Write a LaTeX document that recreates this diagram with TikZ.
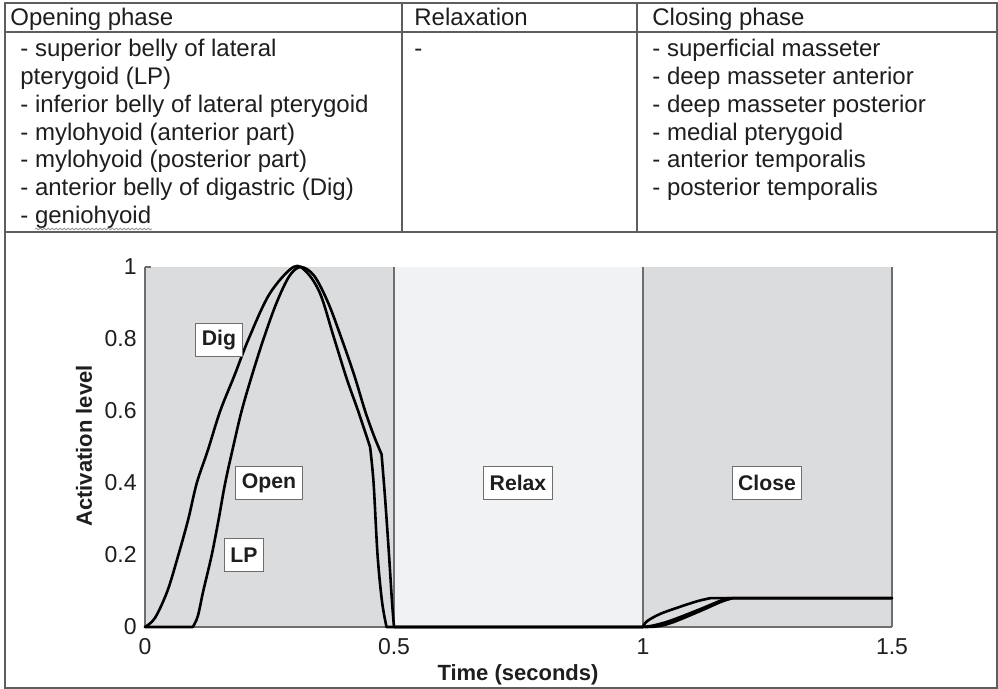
\documentclass[tikz,border=0pt]{standalone}
\usepackage{fontspec}
\setmainfont{Liberation Sans}
\usetikzlibrary{decorations.pathmorphing}
\definecolor{rule}{HTML}{5E5E5E}
\definecolor{ink}{HTML}{1E1E1E}
\definecolor{phasedark}{HTML}{DBDCDE}
\definecolor{phaselight}{HTML}{F1F2F4}
\definecolor{frameline}{HTML}{6E6E6E}
\begin{document}
\begin{tikzpicture}[x=0.5pt,y=-0.5pt,
  cell/.style={anchor=base west,inner sep=0pt,text=ink,
    font=\fontsize{12}{13.8}\selectfont},
  grid/.style={draw=rule,line width=0.75pt},
  ticklab/.style={inner sep=0pt,text=ink,font=\fontsize{11.5}{13}\selectfont},
  axistitle/.style={inner sep=0pt,text=ink,font=\fontsize{11}{13}\selectfont\bfseries},
  phasebox/.style={draw=frameline,fill=white,line width=0.5pt,text=ink,
    inner sep=3pt,minimum height=16.5pt,font=\fontsize{10.6}{12}\selectfont\bfseries},
  curve/.style={draw=black,line width=1.3pt,line join=round,line cap=round},
  edge/.style={draw=frameline,line width=0.8pt}]
\useasboundingbox (0,0) rectangle (998,689);
\fill[white] (0,0) rectangle (998,689);

% ---- table ----
\draw[grid] (5,3) rectangle (997,688);
\draw[grid] (5,32) -- (997,32);
\draw[grid] (5,232) -- (997,232);
\draw[grid] (402,3) -- (402,232);
\draw[grid] (637,3) -- (637,232);

\node[cell] (hopen)  at (10,26)  {Opening phase};
\node[cell] (hrelax) at (414,26) {Relaxation};
\node[cell] (hclose) at (652,26) {Closing phase};

\foreach \entry [count=\i] in {{- superior belly of lateral},{pterygoid (LP)},
    {- inferior belly of lateral pterygoid},{- mylohyoid (anterior part)},
    {- mylohyoid (posterior part)},{- anterior belly of digastric (Dig)},
    {- geniohyoid}}
  \node[cell] (open\i) at (20,{57+27.7*(\i-1)}) {\entry};

\node[cell] (relax1) at (414,57) {-};

\foreach \entry [count=\i] in {{- superficial masseter},{- deep masseter anterior},
    {- deep masseter posterior},{- medial pterygoid},{- anterior temporalis},
    {- posterior temporalis}}
  \node[cell] (close\i) at (652,{57+27.7*(\i-1)}) {\entry};

% spell-check squiggle under the last muscle name
\draw[decorate,decoration={snake,amplitude=0.45pt,segment length=2pt},
      draw=gray!80,line width=0.4pt] (35,229) -- (152,229);

% ---- activation plot ----
\begin{scope}[shift={(145,627)},x=249pt,y=180pt]
  \fill[phasedark]  (0,0)   rectangle (0.5,1);
  \fill[phaselight] (0.5,0) rectangle (1,1);
  \fill[phasedark]  (1,0)   rectangle (1.5,1);
  \draw[edge] (0,0) -- (0,1);
  \draw[edge] (0.5,0) -- (0.5,1);
  \draw[edge] (1,0) -- (1,1);
  \draw[edge] (1.5,0) -- (1.5,1);
  \draw[edge] (0,0) -- (1.5,0);
  \draw[edge] (0,1) -- (0.012,1);

  % digastric
  \draw[curve] plot[smooth,tension=0.55] coordinates {(0,0) (0.02,0.025) (0.045,0.1)
      (0.067,0.2) (0.087,0.3) (0.104,0.4) (0.126,0.49) (0.151,0.6) (0.18,0.7)
      (0.208,0.8) (0.25,0.925) (0.298,1.0) (0.325,0.985) (0.352,0.925) (0.378,0.81)
      (0.405,0.69) (0.428,0.6) (0.452,0.5)}
    -- plot[smooth,tension=0.55] coordinates {(0.452,0.5) (0.459,0.4) (0.467,0.2)
      (0.476,0.07) (0.485,0)} -- (1,0);
  % lateral pterygoid
  \draw[curve] (0,0) -- (0.096,0)
    -- plot[smooth,tension=0.55] coordinates {(0.096,0) (0.106,0.03) (0.117,0.1)
      (0.134,0.2) (0.148,0.3) (0.161,0.4) (0.177,0.5) (0.194,0.6) (0.215,0.7)
      (0.238,0.8) (0.264,0.9) (0.29,0.975) (0.313,1.0) (0.34,0.975) (0.368,0.9)
      (0.395,0.8) (0.42,0.7) (0.442,0.6) (0.46,0.53) (0.475,0.48)}
    -- plot[smooth,tension=0.55] coordinates {(0.475,0.48) (0.482,0.36) (0.49,0.2)
      (0.496,0.07) (0.5,0)} -- (1,0);
  % closing muscles
  \draw[curve] plot[smooth,tension=0.55] coordinates {(1,0) (1.008,0.016)
      (1.034,0.036) (1.074,0.056) (1.11,0.072) (1.135,0.08)} -- (1.5,0.08);
  \draw[curve] plot[smooth,tension=0.55] coordinates {(1,0) (1.02,0.004)
      (1.054,0.017) (1.112,0.048) (1.15,0.07) (1.17,0.08)} -- (1.5,0.08);
  \draw[curve] plot[smooth,tension=0.55] coordinates {(1.005,0) (1.03,0.002)
      (1.06,0.013) (1.116,0.045) (1.157,0.07) (1.18,0.08)} -- (1.5,0.08);

  % tick labels
  \foreach \v/\lab [count=\k] in {0/0,0.2/0.2,0.4/0.4,0.6/0.6,0.8/0.8,1/1}
    \node[ticklab,anchor=east] (ytick\k) at ([xshift=-4pt]0,\v) {\lab};
  \foreach \v/\lab [count=\k] in {0/0,0.5/0.5,1/1,1.5/1.5}
    \node[ticklab] (xtick\k) at ([yshift=-10pt]\v,0) {\lab};
\end{scope}

\node[axistitle] (xtitle) at (518,675) {Time (seconds)};
\node[axistitle,rotate=90] (ytitle) at (84,446) {Activation level};

\node[phasebox] (dig)   at (219,340) {Dig};
\node[phasebox] (open)  at (269,483) {Open};
\node[phasebox] (lp)    at (244,555) {LP};
\node[phasebox] (relax) at (518,483) {Relax};
\node[phasebox] (close) at (767,483) {Close};
\end{tikzpicture}
\end{document}
